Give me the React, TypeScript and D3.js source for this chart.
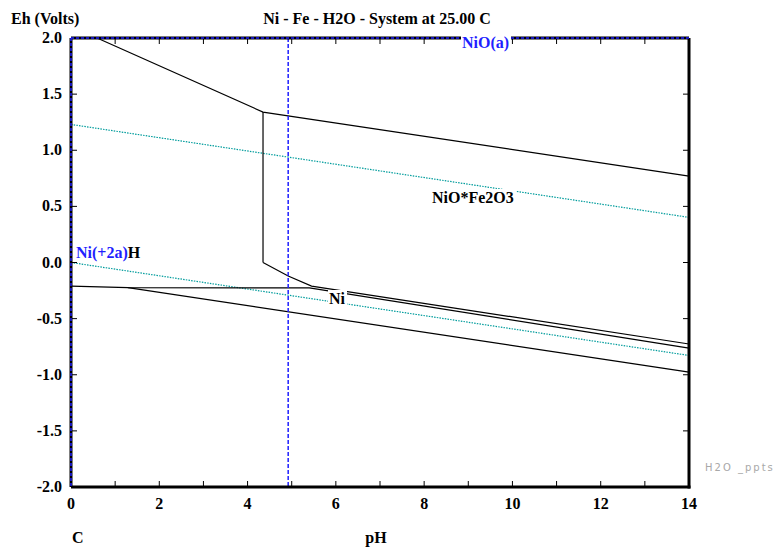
import React from "react";
import * as d3 from "d3";

const W = 778;
const H = 548;
const margin = { left: 71, right: 89, top: 38, bottom: 61 };

const xTicks = [0, 2, 4, 6, 8, 10, 12, 14];
const xMinorTicks = d3.range(0, 15, 1);
const yTicks = [2.0, 1.5, 1.0, 0.5, 0.0, -0.5, -1.0, -1.5, -2.0];

// Boundary lines (pH, Eh)
const upperBoundary: [number, number][] = [[0.59, 2.0], [4.35, 1.34], [14, 0.77]];
const verticalBoundary: [number, number][] = [[4.35, 1.34], [4.35, 0.0]];
const niUpper: [number, number][] = [[4.35, 0.0], [4.92, -0.12], [5.45, -0.21], [14, -0.726]];
const niLower: [number, number][] = [[0, -0.21], [1.29, -0.224], [5.4, -0.226], [14, -0.762]];
const lowerBoundary: [number, number][] = [[1.29, -0.224], [14, -0.976]];
const waterUpper: [number, number][] = [[0, 1.23], [14, 0.402]];
const waterLower: [number, number][] = [[0, 0.0], [14, -0.828]];
const dashedPH = 4.92;

const BLUE = "#1f1fff";
const TEAL = "#009c9c";
const FONT = "'Liberation Serif', 'Times New Roman', serif";

export default function App() {
  const x = d3.scaleLinear().domain([0, 14]).range([margin.left, W - margin.right]);
  const y = d3.scaleLinear().domain([-2, 2]).range([H - margin.bottom, margin.top]);
  const line = d3.line<[number, number]>().x((d) => x(d[0])).y((d) => y(d[1]));
  const x0 = x(0), x1 = x(14), y0 = y(2), y1 = y(-2);

  const txt = { fontFamily: FONT, fontWeight: 700, fontSize: 16 } as const;

  return (
    <svg width={W} height={H} style={{ position: "absolute", left: 0, top: 0, background: "#fff" }}>
      <rect x={0} y={0} width={W} height={H} fill="#fff" />
      {/* water lines */}
      <path d={line(waterUpper)!} fill="none" stroke={TEAL} strokeWidth={1.2} strokeDasharray="1.5 1.2" />
      <path d={line(waterLower)!} fill="none" stroke={TEAL} strokeWidth={1.2} strokeDasharray="1.5 1.2" />
      {/* boundaries */}
      {[upperBoundary, verticalBoundary, niUpper, niLower, lowerBoundary].map((pts, i) => (
        <path key={i} d={line(pts)!} fill="none" stroke="#000" strokeWidth={1.2} />
      ))}
      {/* dashed pH line */}
      <line x1={x(dashedPH)} x2={x(dashedPH)} y1={y0} y2={y1} stroke={BLUE} strokeWidth={1.5} strokeDasharray="4 2" />

      {/* ticks */}
      {xMinorTicks.map((t) => (
        <g key={"xt" + t}>
          <line x1={x(t)} x2={x(t)} y1={y1} y2={y1 - 6} stroke="#000" strokeWidth={1} />
          <line x1={x(t)} x2={x(t)} y1={y0} y2={y0 + 6} stroke="#000" strokeWidth={1} />
        </g>
      ))}
      {yTicks.map((t) => (
        <g key={"yt" + t}>
          <line x1={x0} x2={x0 + 6} y1={y(t)} y2={y(t)} stroke="#000" strokeWidth={1} />
          <line x1={x1} x2={x1 - 6} y1={y(t)} y2={y(t)} stroke="#000" strokeWidth={1} />
        </g>
      ))}

      {/* frame */}
      <line x1={x1} x2={x1} y1={y0} y2={y1 + 1.5} stroke="#000" strokeWidth={3} />
      <line x1={x0} x2={x1 + 1.5} y1={y1} y2={y1} stroke="#000" strokeWidth={3} />
      <line x1={x0} x2={x1} y1={y0} y2={y0} stroke="#000" strokeWidth={3} />
      <line x1={x0} x2={x0} y1={y0} y2={y1} stroke="#000" strokeWidth={3} />
      <line x1={x0} x2={x1} y1={y0} y2={y0} stroke={BLUE} strokeWidth={1.5} strokeDasharray="3 2" />
      <line x1={x0} x2={x0} y1={y0} y2={y1} stroke={BLUE} strokeWidth={1.5} strokeDasharray="3 2" />

      {/* tick labels */}
      {xTicks.map((t) => (
        <text key={"xl" + t} x={x(t)} y={y1 + 22} textAnchor="middle" style={txt}>{t}</text>
      ))}
      {yTicks.map((t) => (
        <text key={"yl" + t} x={x0 - 9} y={y(t) + 5} textAnchor="end" style={txt}>{t.toFixed(1)}</text>
      ))}

      {/* titles */}
      <text x={11} y={24} style={txt}>Eh (Volts)</text>
      <text x={377} y={24} textAnchor="middle" style={txt}>Ni - Fe - H2O - System at 25.00 C</text>
      <text x={72} y={543} style={txt}>C</text>
      <text x={376} y={543} textAnchor="middle" style={txt}>pH</text>

      {/* region labels */}
      <rect x={461} y={33} width={50} height={17} fill="#fff" />
      <text x={462} y={48} style={{ ...txt, fill: BLUE }}>NiO(a)</text>

      <text x={76} y={258} style={txt}>
        <tspan fill={BLUE}>Ni(+2a)</tspan>
        <tspan fill="#000">H</tspan>
      </text>

      <rect x={430} y={189} width={86} height={17} fill="#fff" />
      <text x={432} y={203} style={txt}>NiO*Fe2O3</text>

      <rect x={328} y={290} width={19} height={16} fill="#fff" />
      <text x={329} y={304} style={txt}>Ni</text>

      <text x={705} y={471} style={{ fontFamily: "'DejaVu Sans', sans-serif", fontSize: 10, fill: "#a8a8a8", letterSpacing: 2 }}>H2O _ppts</text>
    </svg>
  );
}
